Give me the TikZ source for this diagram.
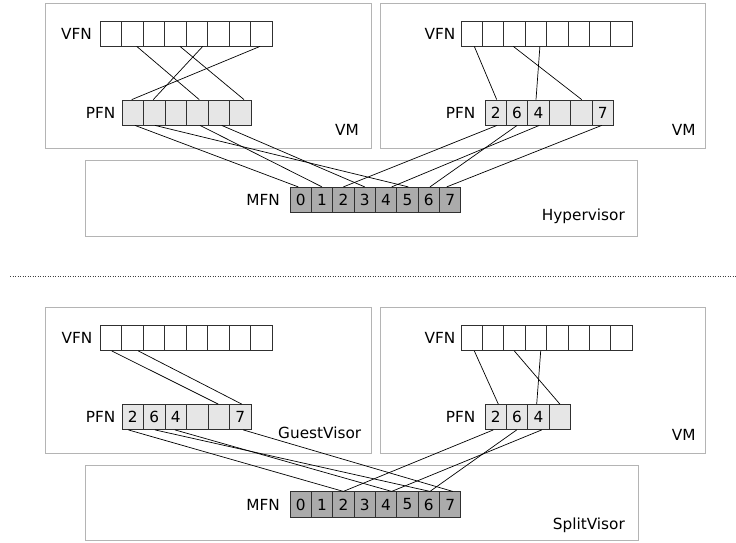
\documentclass[tikz,border=0pt]{standalone}
\usepackage{fontspec}
\setmainfont{DejaVu Sans}
\usetikzlibrary{calc}
\definecolor{boxgray}{HTML}{B4B4B4}
\definecolor{pfnfill}{HTML}{E6E6E6}
\definecolor{mfnfill}{HTML}{ABABAB}
\definecolor{celldraw}{HTML}{303030}
\definecolor{dotcol}{HTML}{404040}
\begin{document}
\begin{tikzpicture}[x=1pt,y=-1pt,
  font=\fontsize{15.3}{18}\selectfont,
  vcell/.style={draw=celldraw, fill=white, minimum width=21.4pt, minimum height=25pt, inner sep=0pt, line width=0.8pt},
  pcell/.style={vcell, fill=pfnfill},
  mcell/.style={vcell, fill=mfnfill, minimum height=25.4pt},
  frame/.style={draw=boxgray, line width=1pt},
  rowlbl/.style={inner sep=0pt, anchor=east},
  boxlbl/.style={inner sep=0pt, anchor=base west},
  link/.style={line width=0.7pt, black}]
\useasboundingbox (0,0) rectangle (736,542);

% ---------- frames ----------
\draw[frame] (45,3.3) rectangle (371.7,148.7);
\draw[frame] (380.7,3.3) rectangle (705,148.7);
\draw[frame] (85,160.7) rectangle (637.7,236);
\draw[frame] (45,307.8) rectangle (371.7,453.2);
\draw[frame] (380.7,307.8) rectangle (705.5,453.2);
\draw[frame] (85,465.2) rectangle (638,540.5);

% separator
\draw[dotcol, line width=1pt, dash pattern=on 1pt off 1.5pt] (10,276) -- (736,276);

% ---------- top panel cells ----------
\foreach \i in {0,...,7} \node[vcell] (tlv\i) at (100+21.5*\i+10.75, 33.5) {};
\foreach \i in {0,...,5} \node[pcell] (tlp\i) at (122+21.5*\i+10.75, 112.5) {};
\foreach \i in {0,...,7} \node[vcell] (trv\i) at (461+21.4*\i+10.7, 33.5) {};
\foreach \i/\t in {0/2,1/6,2/4,3/,4/,5/7} \node[pcell] (trp\i) at (485+21.4*\i+10.7, 112.5) {\t};
\foreach \i in {0,...,7} \node[mcell] (tm\i) at (290+21.35*\i+10.67, 200) {\i};

% ---------- bottom panel cells ----------
\foreach \i in {0,...,7} \node[vcell] (blv\i) at (100+21.5*\i+10.75, 338) {};
\foreach \i/\t in {0/2,1/6,2/4,3/,4/,5/7} \node[pcell] (blp\i) at (122+21.5*\i+10.75, 417) {\t};
\foreach \i in {0,...,7} \node[vcell] (brv\i) at (461+21.4*\i+10.7, 338) {};
\foreach \i/\t in {0/2,1/6,2/4,3/} \node[pcell] (brp\i) at (485+21.4*\i+10.7, 417) {\t};
\foreach \i in {0,...,7} \node[mcell] (bm\i) at (290+21.35*\i+10.67, 504.5) {\i};

% ---------- row labels ----------
\node[rowlbl] (tlvl) at (92,33.5) {VFN};
\node[rowlbl] (tlpl) at (115.5,112.5) {PFN};
\node[rowlbl] (trvl) at (455.5,33.5) {VFN};
\node[rowlbl] (trpl) at (475.5,112.5) {PFN};
\node[rowlbl] (tml) at (280,200) {MFN};
\node[rowlbl] (blvl) at (92.5,338) {VFN};
\node[rowlbl] (blpl) at (115.5,417) {PFN};
\node[rowlbl] (brvl) at (455.5,338) {VFN};
\node[rowlbl] (brpl) at (475.5,417) {PFN};
\node[rowlbl] (bml) at (280,504.5) {MFN};

% ---------- box labels ----------
\node[boxlbl] (vm1) at (335,135) {VM};
\node[boxlbl] (vm2) at (671.7,135) {VM};
\node[boxlbl] (hyp) at (541.7,220) {Hypervisor};
\node[boxlbl] (gv) at (278,438.4) {GuestVisor};
\node[boxlbl] (vm3) at (671.7,440) {VM};
\node[boxlbl] (sv) at (552.7,529.5) {SplitVisor};

% ---------- top links ----------
\draw[link] ([xshift=4.5pt]tlv1.south) -- ([xshift=2pt]tlp3.north);
\draw[link] ([xshift=4.75pt]tlv3.south) -- ([xshift=3.75pt]tlp5.north);
\draw[link] ([xshift=6pt]tlv4.south) -- ([xshift=-1pt]tlp1.north);
\draw[link] ([xshift=-1.25pt]tlv7.south) -- ([xshift=-1pt]tlp0.north);

\draw[link] ([xshift=2.25pt]tlp0.south) -- ([xshift=-2.4pt]tm0.north);
\draw[link] ([xshift=0.75pt]tlp1.south) -- ([xshift=0.9pt]tm5.north);
\draw[link] ([xshift=2.75pt]tlp3.south) -- (tm1.north);
\draw[link] ([xshift=3pt]tlp4.south) -- (tm3.north);

\draw[link] ([xshift=2.6pt]trv0.south) -- ([xshift=1pt]trp0.north);
\draw[link] ([xshift=4pt]trv3.south) -- ([xshift=-2.5pt]trp2.north);
\draw[link] ([xshift=-1.2pt]trv2.south) -- ([xshift=0.4pt]trp4.north);

\draw[link] ([xshift=1.3pt]trp0.south) -- (tm2.north);
\draw[link] (trp1.south) -- ([xshift=1.2pt]tm6.north);
\draw[link] ([xshift=0.8pt]trp2.south) -- ([xshift=5.6pt]tm4.north);
\draw[link] ([xshift=-1pt]trp5.south) -- ([xshift=-3.4pt]tm7.north);

% ---------- bottom links ----------
\draw[link] ([xshift=1pt]blv0.south) -- ([xshift=-0.5pt]blp4.north);
\draw[link] ([xshift=6pt]blv1.south) -- ([xshift=1.5pt]blp5.north);

\draw[link] ([xshift=-4.4pt]blp0.south) -- (bm2.north);
\draw[link] ([xshift=0.75pt]blp1.south) -- ([xshift=1.2pt]bm6.north);
\draw[link] ([xshift=-0.75pt]blp2.south) -- ([xshift=5.6pt]bm4.north);
\draw[link] ([xshift=3pt]blp5.south) -- ([xshift=2.6pt]bm7.north);

\draw[link] ([xshift=2.6pt]brv0.south) -- ([xshift=2.6pt]brp0.north);
\draw[link] ([xshift=4.8pt]brv3.south) -- ([xshift=-1.8pt]brp2.north);
\draw[link] ([xshift=-0.2pt]brv2.south) -- (brp3.north);

\draw[link] ([xshift=-2.4pt]brp0.south) -- (bm2.north);
\draw[link] ([xshift=-0.4pt]brp1.south) -- ([xshift=1.2pt]bm6.north);
\draw[link] ([xshift=3.2pt]brp2.south) -- ([xshift=5.6pt]bm4.north);
\end{tikzpicture}
\end{document}
